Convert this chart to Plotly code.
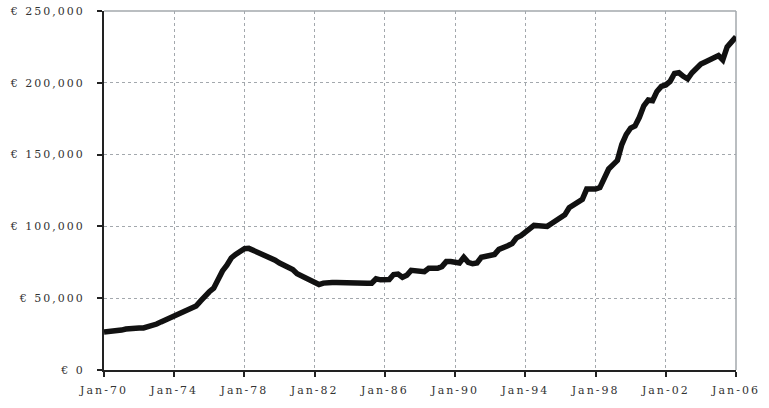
import plotly.graph_objects as go
import pandas as pd

# Quarterly prices (EUR), 1970Q1 .. 2006Q1
prices_k = [
    26.4, 26.6, 26.8, 27.3,      # 1970
    27.8, 28.5, 29.0, 29.2,      # 1971
    29.2, 29.3, 30.0, 31.0,      # 1972
    32.0, 33.5, 35.0, 36.0,      # 1973
    38.0, 39.0, 40.5, 41.7,      # 1974
    43.0, 44.5, 48.0, 51.5,      # 1975
    54.5, 57.0, 63.0, 69.0,      # 1976
    73.0, 78.0, 80.5, 82.5,      # 1977
    84.5, 84.7, 83.5, 82.0,      # 1978
    81.0, 79.5, 78.0, 76.5,      # 1979
    74.5, 73.0, 71.5, 70.0,      # 1980
    67.0, 65.5, 64.0, 62.5,      # 1981
    60.5, 59.5, 60.5, 61.0,      # 1982
    61.0, 61.0, 60.8, 60.6,      # 1983
    60.4, 60.8, 60.2, 60.4,      # 1984
    60.4, 60.4, 63.5, 62.8,      # 1985
    62.5, 63.0, 66.5, 66.8,      # 1986
    64.6, 66.0, 69.4, 69.0,      # 1987
    68.0, 68.5, 70.8, 70.8,      # 1988
    70.8, 72.0, 75.5, 75.5,      # 1989
    75.0, 74.5, 78.5, 75.0,      # 1990
    74.0, 74.5, 78.5, 79.0,      # 1991
    80.0, 80.5, 84.0, 85.0,      # 1992
    86.5, 88.0, 92.0, 93.5,      # 1993
    95.8, 98.0, 100.7, 100.5,    # 1994
    100.0, 100.0, 102.0, 104.0,  # 1995
    106.0, 108.0, 113.0, 115.0,  # 1996
    116.5, 118.8, 126.0, 126.0,  # 1997
    126.0, 127.0, 134.0, 140.0,  # 1998
    143.0, 146.0, 157.0, 164.0,  # 1999
    168.5, 170.0, 176.0, 184.0,  # 2000
    188.0, 187.5, 194.0, 197.5,  # 2001
    198.5, 201.0, 206.5, 207.0,  # 2002
    204.5, 202.8, 207.0, 210.0,  # 2003
    213.0, 214.5, 216.0, 218.5,  # 2004
    219.0, 216.0, 225.0, 228.5,  # 2005
    232.0,                       # 2006
]
prices = [v * 1000 for v in prices_k]
dates = pd.date_range("1970-01-01", periods=len(prices), freq="QS")

x_tick_years = [1970, 1974, 1978, 1982, 1986, 1990, 1994, 1998, 2002, 2006]
x_tick_labels = ["Jan-70", "Jan-74", "Jan-78", "Jan-82", "Jan-86",
                 "Jan-90", "Jan-94", "Jan-98", "Jan-02", "Jan-06"]
y_tick_vals = [0, 50000, 100000, 150000, 200000, 250000]
y_tick_labels = ["€ 0", "€ 50,000", "€ 100,000", "€ 150,000", "€ 200,000", "€ 250,000"]


def spaced(t):
    return f'<span style="letter-spacing:2px">{t}</span>'


font = dict(family="DejaVu Serif", size=11, color="#333333")
grid_color = "#a3a8ad"

fig = go.Figure()
fig.add_trace(go.Scatter(
    x=dates, y=prices, mode="lines",
    line=dict(color="#111111", width=5.5),
    hoverinfo="skip", showlegend=False,
))

fig.update_layout(
    width=769, height=408,
    margin=dict(l=104, r=33, t=11, b=38, autoexpand=False),
    paper_bgcolor="white", plot_bgcolor="white",
    font=font,
    showlegend=False,
)
fig.update_xaxes(
    range=["1970-01-01", "2006-01-01"],
    tickvals=[f"{y}-01-01" for y in x_tick_years],
    ticktext=[spaced(t) for t in x_tick_labels],
    showgrid=True, gridcolor=grid_color, griddash="3px,3px", gridwidth=1,
    showline=True, linecolor="#222222", linewidth=2,
    ticks="outside", ticklen=5, tickcolor="#222222", tickwidth=2,
    ticklabelstandoff=4, ticklabeloverflow="allow",
    zeroline=False, automargin=False,
)
fig.update_yaxes(
    range=[0, 250000],
    tickvals=y_tick_vals,
    ticktext=[spaced(t) for t in y_tick_labels],
    showgrid=True, gridcolor=grid_color, griddash="3px,3px", gridwidth=1,
    showline=True, linecolor="#222222", linewidth=2,
    ticks="outside", ticklen=5, tickcolor="#222222", tickwidth=2,
    ticklabelstandoff=10, ticklabeloverflow="allow",
    zeroline=False, automargin=False,
)
# light frame on top and right
fig.add_shape(type="line", xref="paper", yref="paper", x0=0, x1=1, y0=1, y1=1,
              line=dict(color=grid_color, width=1.5), layer="below")
fig.add_shape(type="line", xref="paper", yref="paper", x0=1, x1=1, y0=0, y1=1,
              line=dict(color=grid_color, width=1.5), layer="below")

fig.write_html(
    "out.html",
    config={"displayModeBar": False, "staticPlot": True},
    post_script="document.body.style.margin='0';document.body.style.overflow='hidden';",
)
